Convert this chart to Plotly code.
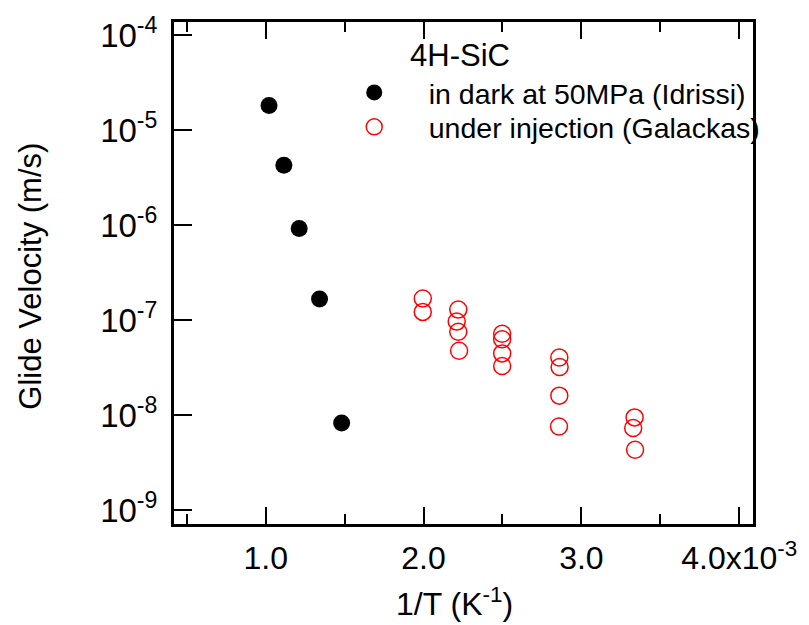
import plotly.graph_objects as go

# Data (1/T in K^-1, glide velocity in m/s)
dark_invT = [1.021e-3, 1.115e-3, 1.212e-3, 1.341e-3, 1.481e-3]
dark_v = [1.82e-5, 4.27e-6, 9.2e-7, 1.67e-7, 8.24e-9]

inj_invT = [1.995e-3, 1.995e-3,
            2.22e-3, 2.21e-3, 2.22e-3, 2.225e-3,
            2.498e-3, 2.498e-3, 2.498e-3, 2.498e-3,
            2.86e-3, 2.862e-3, 2.86e-3, 2.858e-3,
            3.337e-3, 3.328e-3, 3.34e-3]
inj_v = [1.69e-7, 1.22e-7,
         1.29e-7, 9.64e-8, 7.55e-8, 4.76e-8,
         7.19e-8, 6.28e-8, 4.46e-8, 3.29e-8,
         4.03e-8, 3.21e-8, 1.60e-8, 7.57e-9,
         9.44e-9, 7.31e-9, 4.30e-9]

x_tickvals = [1e-3, 2e-3, 3e-3, 4e-3]
x_ticktext = ["1.0", "2.0", "3.0", "4.0x10<sup>-3</sup>"]
y_tickvals = [1e-9, 1e-8, 1e-7, 1e-6, 1e-5, 1e-4]
y_ticktext = ["10<sup>-9</sup>", "10<sup>-8</sup>", "10<sup>-7</sup>",
              "10<sup>-6</sup>", "10<sup>-5</sup>", "10<sup>-4</sup>"]

FONT = "Arial, Liberation Sans, sans-serif"

fig = go.Figure()
fig.add_trace(go.Scatter(
    x=dark_invT, y=dark_v, mode="markers",
    name="in dark at 50MPa (Idrissi)", legend="legend",
    marker=dict(symbol="circle", size=17, color="black"),
))
fig.add_trace(go.Scatter(
    x=inj_invT, y=inj_v, mode="markers",
    name="under injection (Galackas)", legend="legend2",
    marker=dict(symbol="circle-open", size=17, color="#ff0000",
                line=dict(width=1.5, color="#ff0000")),
))

PX0, PW, PY0, PH = 174, 588, 14, 510
LEG_X = (322 - PX0) / PW
legend_common = dict(
    x=LEG_X, xanchor="left", yanchor="middle",
    bgcolor="rgba(0,0,0,0)", borderwidth=0,
    font=dict(size=28.5, family=FONT, color="black"),
    itemwidth=99,
)

fig.update_layout(
    width=809, height=625,
    margin=dict(l=174, r=47, t=14, b=101),
    plot_bgcolor="white", paper_bgcolor="white",
    font=dict(family=FONT, color="black"),
    showlegend=True,
    legend=dict(y=1 - (86 - PY0) / PH, **legend_common),
    legend2=dict(y=1 - (121 - PY0) / PH, **legend_common),
    xaxis=dict(
        range=[0.419e-3, 4.087e-3],
        tickvals=x_tickvals, ticktext=x_ticktext,
        ticks="inside", ticklen=17, tickwidth=2, tickcolor="black",
        showline=True, linewidth=3, linecolor="black", mirror="ticks",
        showgrid=False, zeroline=False,
        tickfont=dict(size=32, family=FONT, color="black"),
        ticklabelstandoff=4,
        minor=dict(dtick=0.5e-3, tick0=0, ticks="inside", ticklen=10,
                   tickwidth=2, tickcolor="black", showgrid=False),
    ),
    yaxis=dict(
        type="log",
        range=[-9.148, -3.86],
        tickvals=y_tickvals, ticktext=y_ticktext,
        ticks="inside", ticklen=18, tickwidth=2, tickcolor="black",
        showline=True, linewidth=3, linecolor="black", mirror=True,
        showgrid=False, zeroline=False,
        tickfont=dict(size=33, family=FONT, color="black"),
        ticklabelstandoff=7,
    ),
    annotations=[
        dict(text="4H-SiC", xref="paper", yref="paper",
             x=(412 - PX0) / PW, y=1 - (48 - PY0) / PH,
             xanchor="left", yanchor="middle", showarrow=False,
             font=dict(size=31, family=FONT, color="black")),
        dict(text="1/T (K<sup>-1</sup>)", xref="paper", yref="paper",
             x=(459 - PX0) / PW, y=-(603 - 524) / PH,
             xanchor="center", yanchor="middle", showarrow=False,
             font=dict(size=32, family=FONT, color="black")),
        dict(text="Glide Velocity (m/s)", xref="paper", yref="paper",
             x=(28.5 - PX0) / PW, y=1 - (272 - PY0) / PH,
             xanchor="center", yanchor="middle", showarrow=False,
             textangle=-90,
             font=dict(size=31, family=FONT, color="black")),
    ],
)

fig.write_html("out.html")
